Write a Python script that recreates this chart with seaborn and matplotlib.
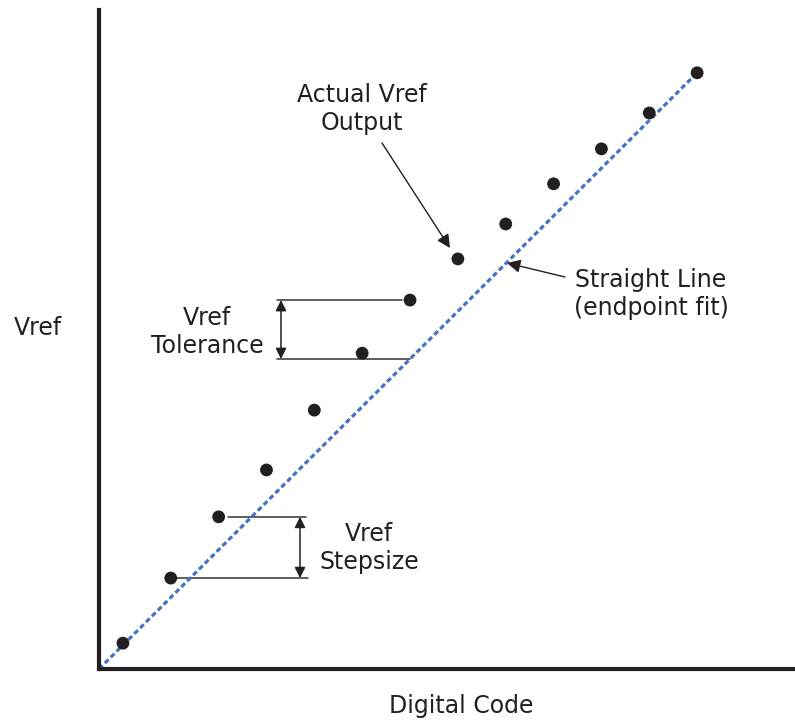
import matplotlib
matplotlib.use("Agg")
import matplotlib.pyplot as plt
import seaborn as sns
import numpy as np
import pandas as pd

# ---- data ----
codes = [1, 2, 3, 4, 5, 6, 7, 8, 9, 10, 11, 12, 13]
vref = [0.54, 1.90, 3.18, 4.16, 5.41, 6.60, 7.71, 8.57, 9.30, 10.14, 10.87, 11.62, 12.46]
fit_x = [0.5, 13]           # endpoint fit: origin to last code
fit_y = [0.0, 12.46]

x_label = "Digital Code"
y_label = "Vref"
lbl_actual = "Actual Vref\nOutput"
lbl_fit = "Straight Line\n(endpoint fit)"
lbl_tol = "Vref\nTolerance"
lbl_step = "Vref\nStepsize"

INK = "#231f20"
BLUE = "#4472c4"
FS = 17

sns.set_theme(style="white")
plt.rcParams["font.family"] = ["DejaVu Sans"]

W, H = 795, 725
fig = plt.figure(figsize=(W / 100, H / 100), dpi=100)
OX, OY, TOPY = 99, 669, 10
ax = fig.add_axes([OX / W, (H - OY) / H, (W - OX) / W, (OY - TOPY) / H])

S = 47.85  # pixels per data unit (equal on both axes)
XMIN = 0.5
ax.set_xlim(XMIN, XMIN + (W - OX) / S)
ax.set_ylim(0, (OY - TOPY) / S)


def dx(px):
    return XMIN + (px - OX) / S


def dy(py):
    return (OY - py) / S


df = pd.DataFrame({"code": codes, "vref": vref})
fit = pd.DataFrame({"x": fit_x, "y": fit_y})

sns.lineplot(data=fit, x="x", y="y", ax=ax, color=BLUE, lw=2.3,
             linestyle=(0, (1.6, 1.0)), zorder=2)
sns.scatterplot(data=df, x="code", y="vref", ax=ax, color=INK, s=85,
                edgecolor="none", zorder=3, clip_on=False)

slope = (fit_y[1] - fit_y[0]) / (fit_x[1] - fit_x[0])


def ideal(x):
    return fit_y[0] + slope * (x - fit_x[0])


# axes styling
sns.despine(ax=ax)
for sp in ("left", "bottom"):
    ax.spines[sp].set_linewidth(3.0)
    ax.spines[sp].set_color(INK)
ax.set_xticks([])
ax.set_yticks([])
ax.set_xlabel(x_label, fontsize=FS, color=INK, va="center", ha="center")
ax.set_ylabel(y_label, fontsize=FS, color=INK, rotation=0, va="center", ha="center")
ax.xaxis.set_label_coords((461 - OX) / (W - OX), -(706 - OY) / (OY - TOPY))
ax.yaxis.set_label_coords((38 - OX) / (W - OX), (OY - 328) / (OY - TOPY))

GL = dict(color="#333333", lw=1.1, zorder=1)

# Stepsize annotation (between codes 2 and 3)
ax.plot([dx(228), dx(306)], [vref[2], vref[2]], **GL)
ax.plot([dx(177), dx(308)], [vref[1], vref[1]], **GL)
ax.annotate("", xy=(dx(300), vref[2]), xytext=(dx(300), vref[1]),
            arrowprops=dict(arrowstyle="<|-|>", color=INK, lw=1.1,
                            mutation_scale=16, shrinkA=0, shrinkB=0))
ax.text(dx(369), dy(548), lbl_step, fontsize=FS, color=INK,
        ha="center", va="center", multialignment="center", linespacing=1.2)

# Tolerance annotation (code 7 vs straight line)
ax.plot([dx(277), dx(402)], [vref[6], vref[6]], **GL)
ax.plot([dx(277), codes[6]], [ideal(codes[6]), ideal(codes[6])], **GL)
ax.annotate("", xy=(dx(281), vref[6]), xytext=(dx(281), ideal(codes[6])),
            arrowprops=dict(arrowstyle="<|-|>", color=INK, lw=1.1,
                            mutation_scale=16, shrinkA=0, shrinkB=0))
ax.text(dx(207), dy(332), lbl_tol, fontsize=FS, color=INK,
        ha="center", va="center", multialignment="center", linespacing=1.2)

# Actual Vref Output
ax.annotate("", xy=(dx(450), dy(248)), xytext=(dx(382), dy(143)),
            arrowprops=dict(arrowstyle="-|>", color=INK, lw=1.0,
                            mutation_scale=20, shrinkA=0, shrinkB=0))
ax.text(dx(362), dy(109), lbl_actual, fontsize=FS, color=INK,
        ha="center", va="center", multialignment="center", linespacing=1.2)

# Straight line label
ax.annotate("", xy=(dx(507), dy(263)), xytext=(dx(565), dy(277)),
            arrowprops=dict(arrowstyle="-|>", color=INK, lw=1.0,
                            mutation_scale=20, shrinkA=0, shrinkB=0))
ax.text(dx(651), dy(294), lbl_fit, fontsize=FS, color=INK,
        ha="center", va="center", multialignment="center", linespacing=1.2)

fig.savefig("out.png", dpi=100, facecolor="white")
